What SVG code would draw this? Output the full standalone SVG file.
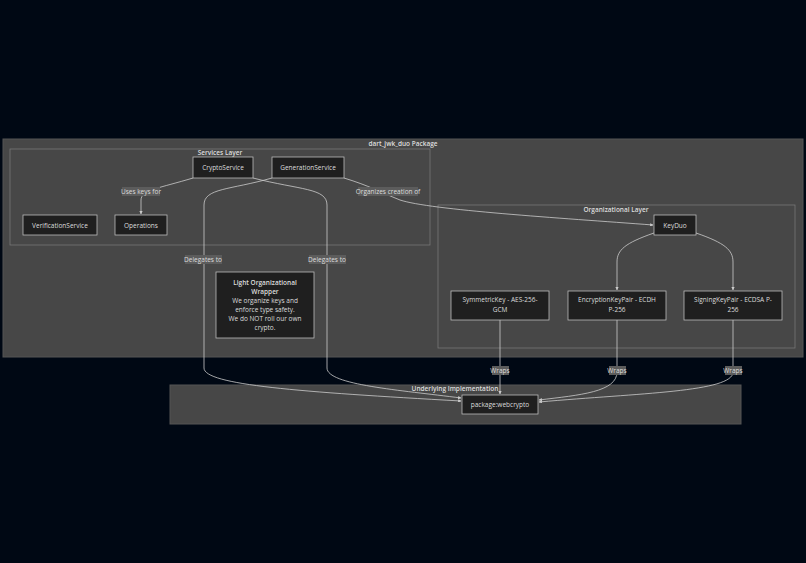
<svg xmlns="http://www.w3.org/2000/svg" width="806" height="563" viewBox="0 0 806 563">
<defs>
<style>
text{font-family:"Open Sans","DejaVu Sans",sans-serif;font-size:6.5px;fill:#dddddd;text-anchor:middle}
.cl{fill:#474747;stroke:#555;stroke-width:1}
.sub{fill:none;stroke:#777;stroke-width:0.8}
.n rect{fill:#1f1f1f;stroke:#bbb;stroke-width:0.8}
.e{fill:none;stroke:#ccc;stroke-width:0.8}
.lb{fill:#5c5c5c}
.t{font-weight:600}
</style>
<marker id="a" viewBox="0 0 10 10" refX="9" refY="5" markerWidth="4" markerHeight="4" orient="auto"><path d="M0,0L10,5L0,10z" fill="#ccc"/></marker>
</defs>
<rect width="806" height="563" fill="#000814"/>
<rect class="cl" x="3" y="139" width="800" height="218"/>
<text x="403" y="146" class="t">dart_jwk_duo Package</text>
<rect class="sub" x="10" y="149" width="420" height="96"/>
<text x="220" y="155" class="t">Services Layer</text>
<rect class="sub" x="438" y="205" width="357" height="143"/>
<text x="616" y="212" class="t">Organizational Layer</text>
<rect class="cl" x="170" y="385" width="571" height="39"/>
<text x="455" y="391" class="t">Underlying Implementation</text>
<g id="edges">
<path class="e" d="M193,178 C160,188 141,190 141,200 L141,214" marker-end="url(#a)"/>
<path class="e" d="M253,178 C300,190 327,188 327,205 L327,368 C327,385 400,390 461,398" marker-end="url(#a)"/>
<path class="e" d="M272,178 C230,190 204,188 204,205 L204,368 C204,385 300,392 461,401" marker-end="url(#a)"/>
<path class="e" d="M344,178 C370,186 380,192 400,200 C430,210 560,218 653,225" marker-end="url(#a)"/>
<path class="e" d="M654,233 C625,243 617,250 617,262 L617,290" marker-end="url(#a)"/>
<path class="e" d="M696,233 C725,243 733,250 733,262 L733,290" marker-end="url(#a)"/>
<path class="e" d="M500,320 L500,394" marker-end="url(#a)"/>
<path class="e" d="M617,320 L617,372 C617,392 580,395 539,400" marker-end="url(#a)"/>
<path class="e" d="M733,320 L733,372 C733,392 640,393 539,402" marker-end="url(#a)"/>
<rect class="lb" x="122" y="187" width="38" height="9"/><text x="141" y="194">Uses keys for</text>
<rect class="lb" x="185" y="255" width="37" height="9"/><text x="203" y="262">Delegates to</text>
<rect class="lb" x="309" y="255" width="37" height="9"/><text x="327" y="262">Delegates to</text>
<rect class="lb" x="358" y="187" width="60" height="9"/><text x="388" y="194">Organizes creation of</text>
<rect class="lb" x="492" y="366" width="17" height="9"/><text x="500" y="373">Wraps</text>
<rect class="lb" x="609" y="366" width="17" height="9"/><text x="617" y="373">Wraps</text>
<rect class="lb" x="725" y="366" width="17" height="9"/><text x="733" y="373">Wraps</text>
</g>
<g id="CryptoService" class="n"><rect x="193" y="157" width="60" height="21"/><text x="223" y="170">CryptoService</text></g>
<g id="GenerationService" class="n"><rect x="272" y="157" width="72" height="21"/><text x="308" y="170">GenerationService</text></g>
<g id="VerificationService" class="n"><rect x="23" y="215" width="74" height="20"/><text x="60" y="228">VerificationService</text></g>
<g id="Operations" class="n"><rect x="115" y="215" width="52" height="20"/><text x="141" y="228">Operations</text></g>
<g id="Wrapper" class="n"><rect x="216" y="272" width="98" height="66"/>
<text x="265" y="285" class="t">Light Organizational</text><text x="265" y="294" class="t">Wrapper</text>
<text x="265" y="303">We organize keys and</text><text x="265" y="312">enforce type safety.</text>
<text x="265" y="321">We do NOT roll our own</text><text x="265" y="330">crypto.</text></g>
<g id="KeyDuo" class="n"><rect x="654" y="215" width="42" height="20"/><text x="675" y="228">KeyDuo</text></g>
<g id="SymmetricKey" class="n"><rect x="451" y="291" width="98" height="29"/><text x="500" y="302">SymmetricKey - AES-256-</text><text x="500" y="312">GCM</text></g>
<g id="EncryptionKeyPair" class="n"><rect x="568" y="291" width="98" height="29"/><text x="617" y="302">EncryptionKeyPair - ECDH</text><text x="617" y="312">P-256</text></g>
<g id="SigningKeyPair" class="n"><rect x="684" y="291" width="98" height="29"/><text x="733" y="302">SigningKeyPair - ECDSA P-</text><text x="733" y="312">256</text></g>
<g id="webcrypto" class="n"><rect x="462" y="395" width="76" height="19"/><text x="500" y="407">package:webcrypto</text></g>
</svg>
